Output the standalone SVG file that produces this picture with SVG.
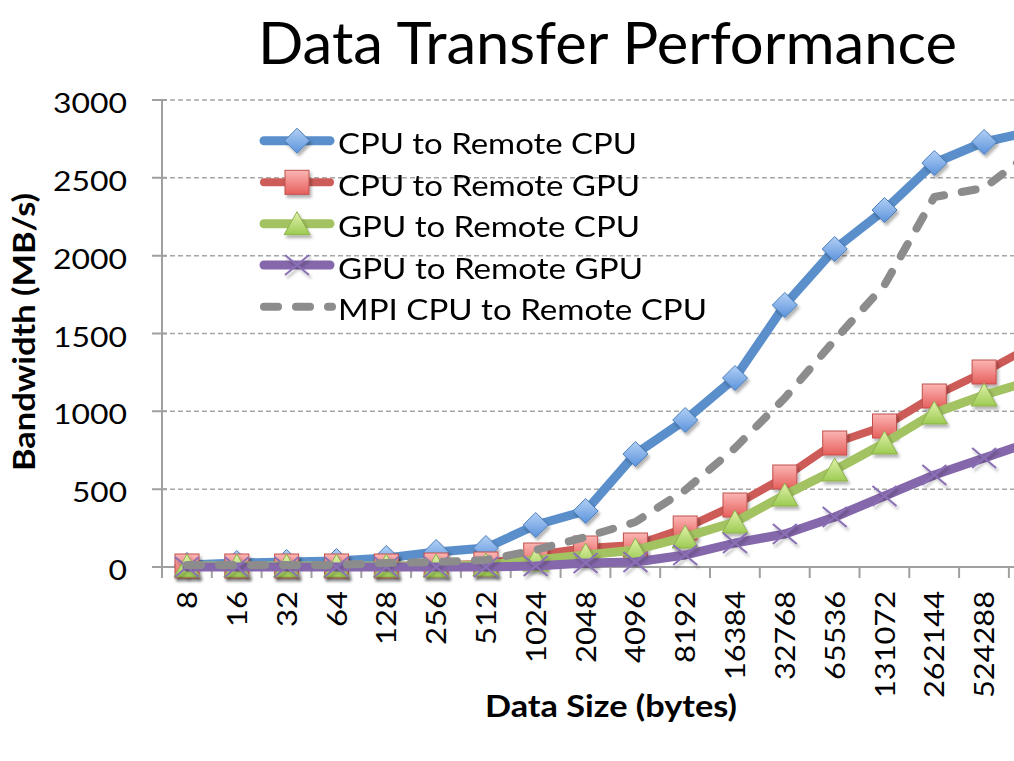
<svg xmlns="http://www.w3.org/2000/svg" xmlns:xlink="http://www.w3.org/1999/xlink" width="1014" height="761" viewBox="0 0 1014 761">
<style>
.t{font-family:Lato,"Open Sans","Liberation Sans",sans-serif;fill:#000}
.tick{font-size:27px}
.leg{font-size:29px}
.ax{font-size:31px;font-weight:bold}
.grid{stroke:#a6a6a6;stroke-width:1.5;stroke-dasharray:5 3;fill:none}
.axis{stroke:#a0a0a0;stroke-width:2;fill:none}
.ln{fill:none;stroke-width:9;stroke-linejoin:round;stroke-linecap:round}
.blue{stroke:#5a8fcb}
.red{stroke:#cd5c58;stroke-width:8}
.green{stroke:#a3c262}
.purple{stroke:#8567ab}
.grey{stroke:#8c8c8c;stroke-width:8;stroke-dasharray:14 18}
</style>
<defs>
<linearGradient id="gb" x1="0" y1="0" x2="0" y2="1"><stop offset="0" stop-color="#b3d0f5"/><stop offset="1" stop-color="#5b93dc"/></linearGradient>
<linearGradient id="gr" x1="0" y1="0" x2="0" y2="1"><stop offset="0" stop-color="#fbb6b4"/><stop offset="1" stop-color="#e65f5c"/></linearGradient>
<linearGradient id="gg" x1="0" y1="0" x2="0" y2="1"><stop offset="0" stop-color="#e2f2ac"/><stop offset="1" stop-color="#9ccb52"/></linearGradient>
<filter id="sh" x="-50%" y="-50%" width="200%" height="200%"><feDropShadow dx="2" dy="3" stdDeviation="1.5" flood-color="#000" flood-opacity="0.3"/></filter>
<path id="dia" d="M0,-12.5 L12.5,0 L0,12.5 L-12.5,0Z" fill="url(#gb)" stroke="#4a7ebb" stroke-width="1"/>
<rect id="sq" x="-12" y="-12" width="24" height="24" fill="url(#gr)" stroke="#c0504d" stroke-width="1"/>
<path id="tri" d="M0,-12 L13,11 L-13,11Z" fill="url(#gg)" stroke="#8db04c" stroke-width="1"/>
<path id="xx" d="M-12,-10 L12,10 M-12,10 L12,-10" fill="none" stroke="#8a6fb5" stroke-width="2"/>
</defs>
<rect width="1014" height="761" fill="#fff"/>

<g id="title"><text class="t" x="258" y="64" font-size="58" textLength="699" lengthAdjust="spacingAndGlyphs">Data Transfer Performance</text></g>

<g id="gridlines">
<path class="grid" d="M162,100H1014M162,177.8H1014M162,255.7H1014M162,333.5H1014M162,411.3H1014M162,489.2H1014"/>
</g>

<g id="axes">
<path class="axis" d="M162,100V578M152,567H1014"/>
<path class="axis" d="M152,100H167M152,177.8H167M152,255.7H167M152,333.5H167M152,411.3H167M152,489.2H167"/>
<path class="axis" d="M211.8,567V578M261.6,567V578M311.5,567V578M361.3,567V578M411.1,567V578M460.9,567V578M510.7,567V578M560.6,567V578M610.4,567V578M660.2,567V578M710,567V578M759.8,567V578M809.7,567V578M859.5,567V578M909.3,567V578M959.1,567V578M1008.9,567V578"/>
</g>

<g id="y-labels" class="t tick" text-anchor="end">
<text x="127" y="113" textLength="74" lengthAdjust="spacingAndGlyphs">3000</text>
<text x="127" y="190.8" textLength="74" lengthAdjust="spacingAndGlyphs">2500</text>
<text x="127" y="268.7" textLength="74" lengthAdjust="spacingAndGlyphs">2000</text>
<text x="127" y="346.5" textLength="74" lengthAdjust="spacingAndGlyphs">1500</text>
<text x="127" y="424.3" textLength="74" lengthAdjust="spacingAndGlyphs">1000</text>
<text x="127" y="502.2" textLength="55" lengthAdjust="spacingAndGlyphs">500</text>
<text x="127" y="580" textLength="18.5" lengthAdjust="spacingAndGlyphs">0</text>
</g>

<g id="x-labels" class="t tick" text-anchor="end">
<text transform="translate(197,591) rotate(-90)" textLength="18" lengthAdjust="spacingAndGlyphs">8</text>
<text transform="translate(246.8,591) rotate(-90)" textLength="36" lengthAdjust="spacingAndGlyphs">16</text>
<text transform="translate(296.6,591) rotate(-90)" textLength="36" lengthAdjust="spacingAndGlyphs">32</text>
<text transform="translate(346.5,591) rotate(-90)" textLength="36" lengthAdjust="spacingAndGlyphs">64</text>
<text transform="translate(396.3,591) rotate(-90)" textLength="54" lengthAdjust="spacingAndGlyphs">128</text>
<text transform="translate(446.1,591) rotate(-90)" textLength="54" lengthAdjust="spacingAndGlyphs">256</text>
<text transform="translate(495.9,591) rotate(-90)" textLength="54" lengthAdjust="spacingAndGlyphs">512</text>
<text transform="translate(545.7,591) rotate(-90)" textLength="72" lengthAdjust="spacingAndGlyphs">1024</text>
<text transform="translate(595.6,591) rotate(-90)" textLength="72" lengthAdjust="spacingAndGlyphs">2048</text>
<text transform="translate(645.4,591) rotate(-90)" textLength="72" lengthAdjust="spacingAndGlyphs">4096</text>
<text transform="translate(695.2,591) rotate(-90)" textLength="72" lengthAdjust="spacingAndGlyphs">8192</text>
<text transform="translate(745,591) rotate(-90)" textLength="89" lengthAdjust="spacingAndGlyphs">16384</text>
<text transform="translate(794.8,591) rotate(-90)" textLength="89" lengthAdjust="spacingAndGlyphs">32768</text>
<text transform="translate(844.7,591) rotate(-90)" textLength="89" lengthAdjust="spacingAndGlyphs">65536</text>
<text transform="translate(894.5,591) rotate(-90)" textLength="107" lengthAdjust="spacingAndGlyphs">131072</text>
<text transform="translate(944.3,591) rotate(-90)" textLength="107" lengthAdjust="spacingAndGlyphs">262144</text>
<text transform="translate(994.1,591) rotate(-90)" textLength="107" lengthAdjust="spacingAndGlyphs">524288</text>
</g>

<g id="axis-titles" class="t ax">
<text x="485" y="717" textLength="252" lengthAdjust="spacingAndGlyphs">Data Size (bytes)</text>
<text transform="translate(35,471) rotate(-90)" textLength="278" lengthAdjust="spacingAndGlyphs">Bandwidth (MB/s)</text>
</g>

<g id="connectors">
<g id="series-cpu-cpu">
<polyline class="ln blue" points="187,565 236.8,563 286.6,562 336.5,561 386.3,558 436.1,552 485.9,548 535.7,525 585.6,511 635.4,454 685.2,420 735,378 784.8,305 834.7,249 884.5,210 934.3,163 984.1,142 1033.9,131"/>
<g filter="url(#sh)">
<use href="#dia" x="187" y="565"/><use href="#dia" x="236.8" y="563"/><use href="#dia" x="286.6" y="562"/><use href="#dia" x="336.5" y="561"/><use href="#dia" x="386.3" y="558"/><use href="#dia" x="436.1" y="552"/><use href="#dia" x="485.9" y="548"/><use href="#dia" x="535.7" y="525"/><use href="#dia" x="585.6" y="511"/><use href="#dia" x="635.4" y="454"/><use href="#dia" x="685.2" y="420"/><use href="#dia" x="735" y="378"/><use href="#dia" x="784.8" y="305"/><use href="#dia" x="834.7" y="249"/><use href="#dia" x="884.5" y="210"/><use href="#dia" x="934.3" y="163"/><use href="#dia" x="984.1" y="142"/>
</g>
</g>
<g id="series-cpu-gpu">
<polyline class="ln red" points="187,566 236.8,566 286.6,566 336.5,566 386.3,566 436.1,565 485.9,564 535.7,555 585.6,548 635.4,545 685.2,528 735,505 784.8,477 834.7,443 884.5,426 934.3,396 984.1,372 1033.9,345"/>
<g filter="url(#sh)">
<use href="#sq" x="187" y="566"/><use href="#sq" x="236.8" y="566"/><use href="#sq" x="286.6" y="566"/><use href="#sq" x="336.5" y="566"/><use href="#sq" x="386.3" y="566"/><use href="#sq" x="436.1" y="565"/><use href="#sq" x="485.9" y="564"/><use href="#sq" x="535.7" y="555"/><use href="#sq" x="585.6" y="548"/><use href="#sq" x="635.4" y="545"/><use href="#sq" x="685.2" y="528"/><use href="#sq" x="735" y="505"/><use href="#sq" x="784.8" y="477"/><use href="#sq" x="834.7" y="443"/><use href="#sq" x="884.5" y="426"/><use href="#sq" x="934.3" y="396"/><use href="#sq" x="984.1" y="372"/>
</g>
</g>
<g id="series-gpu-cpu">
<polyline class="ln green" points="187,566 236.8,566 286.6,566 336.5,566 386.3,566 436.1,566 485.9,565 535.7,560 585.6,555 635.4,550 685.2,537 735,522 784.8,495 834.7,470 884.5,443 934.3,413 984.1,395 1033.9,380"/>
<g filter="url(#sh)">
<use href="#tri" x="187" y="566"/><use href="#tri" x="236.8" y="566"/><use href="#tri" x="286.6" y="566"/><use href="#tri" x="336.5" y="566"/><use href="#tri" x="386.3" y="566"/><use href="#tri" x="436.1" y="566"/><use href="#tri" x="485.9" y="565"/><use href="#tri" x="535.7" y="560"/><use href="#tri" x="585.6" y="555"/><use href="#tri" x="635.4" y="550"/><use href="#tri" x="685.2" y="537"/><use href="#tri" x="735" y="522"/><use href="#tri" x="784.8" y="495"/><use href="#tri" x="834.7" y="470"/><use href="#tri" x="884.5" y="443"/><use href="#tri" x="934.3" y="413"/><use href="#tri" x="984.1" y="395"/>
</g>
</g>
<g id="series-gpu-gpu">
<polyline class="ln purple" points="187,567 236.8,567 286.6,567 336.5,567 386.3,567 436.1,567 485.9,567 535.7,566 585.6,563 635.4,562 685.2,555 735,543 784.8,534 834.7,517 884.5,496 934.3,475 984.1,458 1033.9,441"/>
<g filter="url(#sh)">
<use href="#xx" x="187" y="567"/><use href="#xx" x="236.8" y="567"/><use href="#xx" x="286.6" y="567"/><use href="#xx" x="336.5" y="567"/><use href="#xx" x="386.3" y="567"/><use href="#xx" x="436.1" y="567"/><use href="#xx" x="485.9" y="567"/><use href="#xx" x="535.7" y="566"/><use href="#xx" x="585.6" y="563"/><use href="#xx" x="635.4" y="562"/><use href="#xx" x="685.2" y="555"/><use href="#xx" x="735" y="543"/><use href="#xx" x="784.8" y="534"/><use href="#xx" x="834.7" y="517"/><use href="#xx" x="884.5" y="496"/><use href="#xx" x="934.3" y="475"/><use href="#xx" x="984.1" y="458"/>
</g>
</g>
<g id="series-mpi">
<polyline class="ln grey" points="187,565 236.8,565 286.6,565 336.5,565 386.3,563 436.1,562 485.9,560 535.7,550 585.6,537 635.4,522 685.2,490 735,448 784.8,398 834.7,340 884.5,285 934.3,197 984.1,188 1033.9,150"/>
</g>
</g>

<g id="legend">
<g id="legend-cpu-cpu">
<line class="ln blue" x1="264" y1="140.7" x2="330" y2="140.7"/>
<use href="#dia" x="297" y="140.7" filter="url(#sh)"/>
<text class="t leg" x="338" y="154.2" textLength="299" lengthAdjust="spacingAndGlyphs">CPU to Remote CPU</text>
</g>
<g id="legend-cpu-gpu">
<line class="ln red" x1="264" y1="182.3" x2="330" y2="182.3"/>
<use href="#sq" x="297" y="182.3" filter="url(#sh)"/>
<text class="t leg" x="338" y="195.8" textLength="302" lengthAdjust="spacingAndGlyphs">CPU to Remote GPU</text>
</g>
<g id="legend-gpu-cpu">
<line class="ln green" x1="264" y1="223.7" x2="330" y2="223.7"/>
<use href="#tri" x="297" y="223.7" filter="url(#sh)"/>
<text class="t leg" x="338" y="237.2" textLength="302" lengthAdjust="spacingAndGlyphs">GPU to Remote CPU</text>
</g>
<g id="legend-gpu-gpu">
<line class="ln purple" x1="264" y1="265" x2="330" y2="265"/>
<use href="#xx" x="297" y="265" filter="url(#sh)"/>
<text class="t leg" x="338" y="278.5" textLength="305" lengthAdjust="spacingAndGlyphs">GPU to Remote GPU</text>
</g>
<g id="legend-mpi">
<line class="ln grey" x1="264" y1="306.7" x2="332" y2="306.7"/>
<text class="t leg" x="338" y="320.2" textLength="369" lengthAdjust="spacingAndGlyphs">MPI CPU to Remote CPU</text>
</g>
</g>
</svg>
